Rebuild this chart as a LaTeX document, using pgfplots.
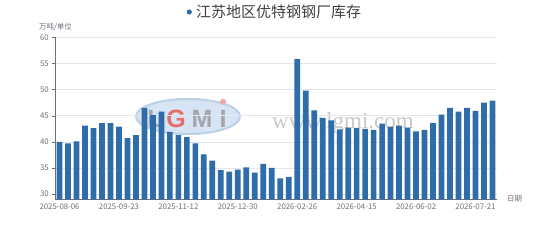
\documentclass[border=0pt]{standalone}
\usepackage{fontspec}
\setmainfont{Noto Sans CJK SC}
\newfontfamily\wmserif{Liberation Serif}
\newfontfamily\wmsans{Liberation Sans}
\usepackage{pgfplots}
\usepackage{pgfplotstable}
\pgfplotsset{compat=1.18}

\definecolor{barblue}{RGB}{46,108,170}
\definecolor{axisgray}{RGB}{110,112,121}
\definecolor{gridgray}{RGB}{226,230,238}
\definecolor{titlegray}{RGB}{64,64,64}
\definecolor{logofill}{RGB}{214,228,243}
\definecolor{logoring}{RGB}{188,208,232}
\definecolor{logotext}{RGB}{165,165,172}
\definecolor{logored}{RGB}{232,110,110}
\definecolor{wmgray}{RGB}{200,200,200}

% weekly stock of special steel mills, Jiangsu (10k t)
\pgfplotstableread{
idx stock
0 40.0
1 39.7
2 40.1
3 43.1
4 42.6
5 43.6
6 43.6
7 42.9
8 40.7
9 41.3
10 46.5
11 45.1
12 45.8
13 41.9
14 41.3
15 40.9
16 39.7
17 37.6
18 36.4
19 34.6
20 34.3
21 34.7
22 35.1
23 34.1
24 35.8
25 35.0
26 33.0
27 33.3
28 55.8
29 49.8
30 46.0
31 44.6
32 44.1
33 42.4
34 42.7
35 42.6
36 42.5
37 42.3
38 43.5
39 42.9
40 43.1
41 42.7
42 42.0
43 42.3
44 43.6
45 45.2
46 46.5
47 45.8
48 46.5
49 45.9
50 47.5
51 47.9
}\stockdata

\begin{document}
\begin{tikzpicture}[x=1pt,y=1pt]
\useasboundingbox (0,0) rectangle (554,243);

% watermark: logo and site address
\fill[logofill] (188,126.5) ellipse [x radius=53, y radius=18.5];
\draw[logoring, line width=2pt] (188,126.5) ellipse [x radius=52, y radius=17.5];
\node[anchor=base, text=logotext, inner sep=0pt] at (155,115) {\wmsans\bfseries\fontsize{25}{25}\selectfont L};
\node[anchor=base, text=logored, inner sep=0pt] at (176,115) {\wmsans\bfseries\fontsize{25}{25}\selectfont G};
\node[anchor=base, text=logotext, inner sep=0pt] at (202,115) {\wmsans\bfseries\fontsize{25}{25}\selectfont M};
\node[anchor=base, text=logotext, inner sep=0pt] at (223,115) {\wmsans\bfseries\fontsize{25}{25}\selectfont I};
\fill[logored!60] (223,141.3) circle (3);
\node[anchor=base west, text=wmgray, inner sep=0pt] at (272,114.5) {\wmserif\fontsize{23}{23}\selectfont www.lgmi.com};

% legend entry used as the title
\fill[barblue] (189.3,231) circle (2.6);
\node[anchor=west, text=titlegray, inner sep=0pt] at (196,231) {\fontsize{15}{15}\selectfont 江苏地区优特钢钢厂库存};

\begin{axis}[
  at={(55.3pt,43.7pt)}, anchor=south west,
  scale only axis, width=441.4pt, height=162pt,
  xmin=-0.5, xmax=51.5, ymin=29, ymax=60,
  axis line style={axisgray},
  axis x line*=bottom, axis y line*=left,
  ytick={30,35,...,60},
  ymajorgrids, grid style={gridgray, line width=0.6pt},
  xtick={0,7,14,21,28,35,42,49},
  xticklabels={2025-08-06,2025-09-23,2025-11-12,2025-12-30,2026-02-26,2026-04-15,2026-06-02,2026-07-21},
  x tick style={draw=none},
  x tick label style={yshift=-1.5pt},
  extra x ticks={-0.5,6.5,13.5,20.5,27.5,34.5,41.5,48.5,51.5},
  extra x tick labels={},
  extra x tick style={major tick length=3pt, tick style={axisgray, draw=axisgray}, tick align=outside, grid=none},
  y tick style={axisgray}, ytick align=outside, major tick length=3pt,
  tick label style={text=axisgray, font=\fontsize{7.8}{8}\selectfont},
  /pgf/number format/assume math mode=true,
  clip=true,
]
\addplot[ybar, bar width=5.7pt, fill=barblue, draw=none] table[x=idx, y=stock] {\stockdata};
\end{axis}

\node[anchor=center, text=axisgray, inner sep=0pt] at (55.5,216.3) {\fontsize{7.5}{8}\selectfont 万吨/单位};
\node[anchor=west, text=axisgray, inner sep=0pt] at (507,44.3) {\fontsize{7.5}{8}\selectfont 日期};
\end{tikzpicture}
\end{document}
